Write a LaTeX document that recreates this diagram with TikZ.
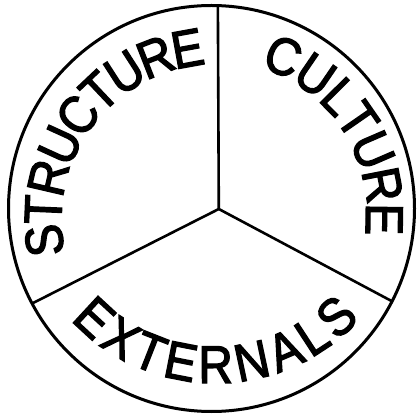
\documentclass[tikz,border=0pt]{standalone}
\usepackage{fontspec}
\setmainfont{Liberation Sans}
\newfontfamily\letterfont[FakeBold=2.4, FakeStretch=0.9]{Liberation Sans}
\usetikzlibrary{calc}
\newcommand\wordfont{\letterfont\fontsize{53}{53}\selectfont}
\begin{document}
\begin{tikzpicture}[x=1pt,y=1pt,
  ring/.style={line width=3pt},
  spoke/.style={line width=2.6pt},
  letter/.style={font=\wordfont, inner sep=0pt, anchor=base}]
\useasboundingbox (0,0) rectangle (417,415);
\coordinate (c) at (211.5,206.5);
\coordinate (j) at (218.8,206);
\coordinate (top) at ($(c)+(88.2:203)$);
\coordinate (left) at ($(c)+(207.9:203)$);
\coordinate (right) at ($(c)+(332.8:203)$);
\draw[ring] (c) circle[radius=203];
\draw[spoke] (j) -- (top);
\draw[spoke] (j) -- (left);
\draw[spoke] (j) -- (right);
% centres of the lettering arcs
\coordinate (sc) at (218,198);
\coordinate (ec) at (215,228);
% STRUCTURE
\foreach \ch/\a/\r [count=\i] in {S/187.7/157, T/177.55/156.5, R/166.95/156, U/155.48/155.5, C/144.01/155, T/133.41/154.5, U/122.81/154, R/111.34/153.5, E/100.31/153}
  \node[letter, rotate=\a-90] (s\i) at ($(sc)+(\a:\r)$) {\ch};
% CULTURE
\foreach \ch/\a/\r [count=\i] in {C/67.9/155, U/55.58/154, L/44.68/153, T/34.73/152, U/23.35/150.5, R/11.03/149.5, E/-0.81/148}
  \node[letter, rotate=\a-90] (c\i) at ($(sc)+(\a:\r)$) {\ch};
% EXTERNALS
\foreach \ch/\a [count=\i] in {E/227.3, X/238.15, T/248.54, E/258.93, R/270.21, N/281.95, A/293.23, L/303.16, S/313.1}
  \node[letter, rotate=\a+90] (e\i) at ($(ec)+(\a:196)$) {\ch};
\end{tikzpicture}
\end{document}
